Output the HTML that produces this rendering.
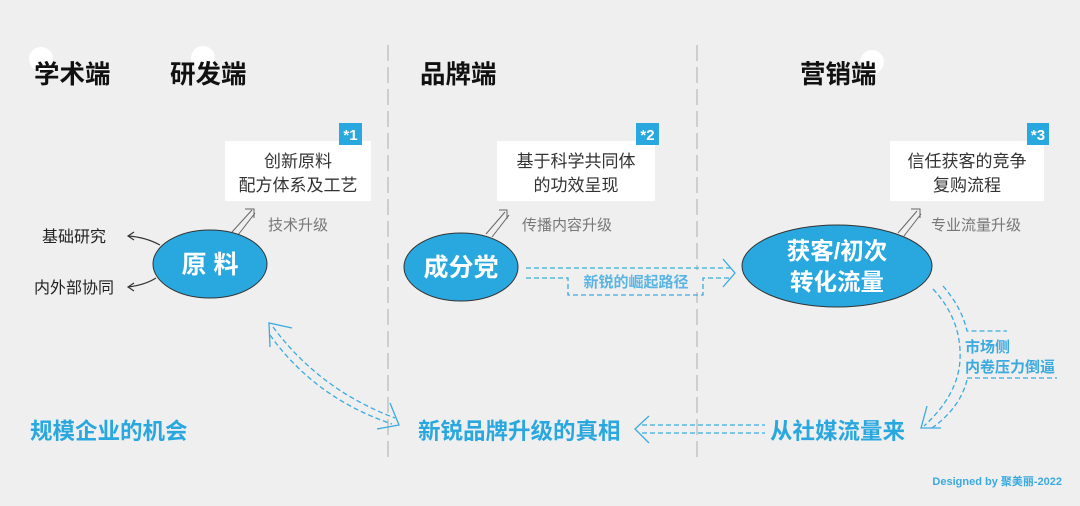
<!DOCTYPE html>
<html><head><meta charset="utf-8"><style>
html,body{margin:0;padding:0;background:#efefef;}
svg{display:block;}
text{font-family:"Liberation Sans","Noto Sans CJK SC",sans-serif;}
</style></head><body>
<svg width="1080" height="506" viewBox="0 0 1080 506" xmlns="http://www.w3.org/2000/svg">
<rect width="1080" height="506" fill="#efefef"/>
<line x1="388" y1="45" x2="388" y2="462" stroke="#c4c4c4" stroke-width="1.5" stroke-dasharray="16,6"/>
<line x1="697" y1="45" x2="697" y2="462" stroke="#c4c4c4" stroke-width="1.5" stroke-dasharray="16,6"/>
<circle cx="41" cy="59" r="12" fill="#fff"/>
<circle cx="203" cy="58" r="12" fill="#fff"/>
<circle cx="872" cy="62" r="12" fill="#fff"/>
<g font-size="25.5" font-weight="bold" fill="#111">
<text x="34" y="83">学术端</text>
<text x="170" y="83">研发端</text>
<text x="420" y="83">品牌端</text>
<text x="800" y="83">营销端</text>
</g>
<rect x="225" y="141" width="146" height="60" fill="#fff"/>
<rect x="339" y="123" width="23" height="22" fill="#29a8e0"/>
<text x="350.5" y="140" font-size="15" font-weight="bold" fill="#fff" text-anchor="middle">*1</text>
<g font-size="17" fill="#333" text-anchor="middle">
<text x="298" y="167">创新原料</text>
<text x="298" y="191">配方体系及工艺</text>
</g>
<rect x="497" y="141" width="158" height="60" fill="#fff"/>
<rect x="636" y="123" width="23" height="22" fill="#29a8e0"/>
<text x="647.5" y="140" font-size="15" font-weight="bold" fill="#fff" text-anchor="middle">*2</text>
<g font-size="17" fill="#333" text-anchor="middle">
<text x="576" y="167">基于科学共同体</text>
<text x="576" y="191">的功效呈现</text>
</g>
<rect x="890" y="141" width="154" height="60" fill="#fff"/>
<rect x="1027" y="123" width="22" height="22" fill="#29a8e0"/>
<text x="1038" y="140" font-size="15" font-weight="bold" fill="#fff" text-anchor="middle">*3</text>
<g font-size="17" fill="#333" text-anchor="middle">
<text x="967" y="167">信任获客的竞争</text>
<text x="967" y="191">复购流程</text>
</g>
<g stroke="#666" stroke-width="1" fill="none">
<path d="M232 232 L252 210 M238 235 L255 213 M245 209 L254 209 L254 218"/>
<path d="M486 234 L505 212 M492 237 L509 215 M499 210 L507 210 L507 219"/>
<path d="M898 233 L917 211 M904 236 L921 214 M911 209 L920 209 L920 218"/>
</g>
<g font-size="15" fill="#777">
<text x="268" y="230">技术升级</text>
<text x="522" y="230">传播内容升级</text>
<text x="931" y="230">专业流量升级</text>
</g>
<g stroke="#333" stroke-width="1.2" fill="none">
<path d="M160 245 Q145 237 128 236 M134 232 L128 236 L134 240"/>
<path d="M156 278 Q145 285 128 287 M134 283 L128 287 L134 291"/>
</g>
<g font-size="16" fill="#222">
<text x="42" y="242">基础研究</text>
<text x="34" y="293">内外部协同</text>
</g>
<ellipse cx="210" cy="264" rx="57" ry="34" fill="#29a8e0" stroke="#333" stroke-width="1"/>
<text x="210" y="273" font-size="25" font-weight="bold" fill="#fff" text-anchor="middle">原 料</text>
<ellipse cx="461" cy="267" rx="57" ry="34" fill="#29a8e0" stroke="#333" stroke-width="1"/>
<text x="461" y="276" font-size="25" font-weight="bold" fill="#fff" text-anchor="middle">成分党</text>
<ellipse cx="837" cy="266" rx="95" ry="41" fill="#29a8e0" stroke="#333" stroke-width="1"/>
<g font-size="23.5" font-weight="bold" fill="#fff" text-anchor="middle">
<text x="837" y="259">获客/初次</text>
<text x="837" y="290">转化流量</text>
</g>
<g stroke="#3aaae0" stroke-width="1.3" fill="none" stroke-dasharray="5,3">
<path d="M526 268 L733 268"/>
<path d="M526 278 L568 278 L568 295 L703 295 L703 278 L730 278"/>
<path d="M273 327 Q320 390 395 418"/>
<path d="M270 335 Q315 398 392 424"/>
<path d="M933 289 Q962 320 960 360 Q958 395 924 426"/>
<path d="M943 286 Q962 308 967 331 L1007 331"/>
<path d="M967 378 L1057 378"/>
<path d="M967 380 Q960 408 932 428"/>
<path d="M642 425 L765 425 M642 433 L765 433"/>
</g>
<g stroke="#3aaae0" stroke-width="1.3" fill="none">
<path d="M723 259 L735 273 L723 287"/>
<path d="M270 347 L269 323 L292 328"/>
<path d="M390 403 L399 425 L377 429"/>
<path d="M927 406 L921 428 L941 428"/>
<path d="M649 416 L635 429 L649 443"/>
</g>
<rect x="572" y="270" width="128" height="22" fill="#efefef"/>
<text x="636" y="287" font-size="15" font-weight="bold" fill="#5bb5e4" text-anchor="middle">新锐的崛起路径</text>
<g font-size="15" font-weight="bold" fill="#3aaae0">
<text x="965" y="352">市场侧</text>
<text x="965" y="372">内卷压力倒逼</text>
</g>
<g font-size="22.5" font-weight="bold" fill="#29a8e0">
<text x="30" y="439">规模企业的机会</text>
<text x="418" y="439">新锐品牌升级的真相</text>
<text x="770" y="439">从社媒流量来</text>
</g>
<text x="1062" y="485" font-size="11" font-weight="bold" fill="#3aaae0" text-anchor="end">Designed by 聚美丽-2022</text>
</svg>
</body></html>
